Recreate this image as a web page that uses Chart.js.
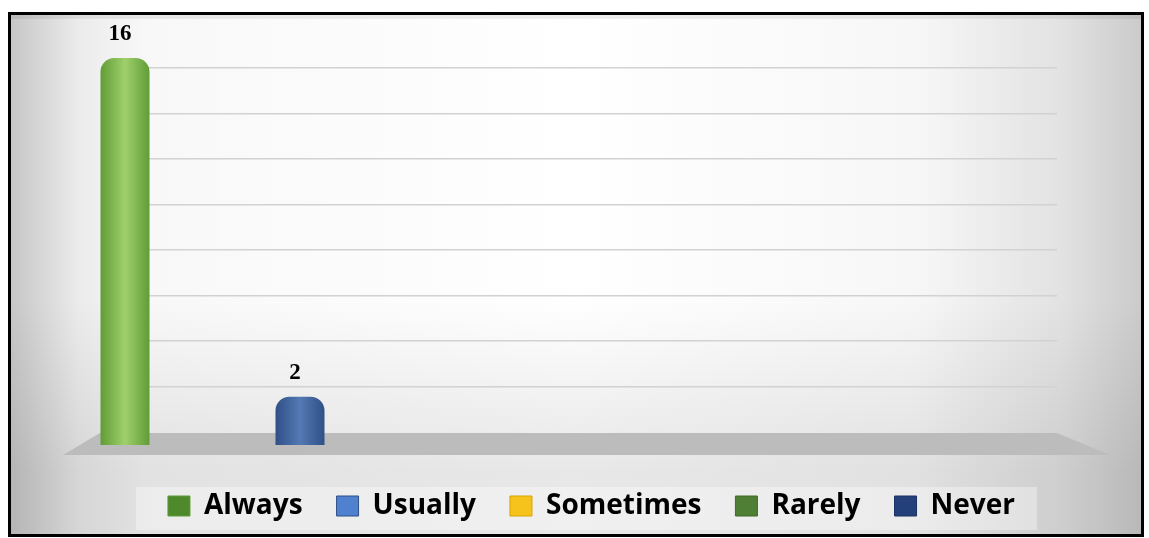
<!DOCTYPE html>
<html>
<head>
<meta charset="utf-8">
<script src="https://cdn.jsdelivr.net/npm/chart.js@4"></script>
<style>
  body { margin: 0; background: #fff; }
  #wrap { position: relative; width: 1149px; height: 538px; }
</style>
</head>
<body>
<div id="wrap"><canvas id="freqChart"></canvas></div>
<script>
// responses per category
const categories = ['Always', 'Usually', 'Sometimes', 'Rarely', 'Never'];
const counts = [16, 2, 0, 0, 0];
const legendColors = ['#4e8a2c', '#4f81cf', '#f6c21c', '#4f7f34', '#24407a'];
const barEdge = ['#5f9b35', '#2f4f86', '#d9a400', '#3f6b28', '#1b3263'];
const barMid = ['#9fd06c', '#5479b4', '#ffd54a', '#6c9c4a', '#3c5a94'];
const wallTicks = [2, 4, 6, 8, 10, 12, 14, 16];

// cylinder shading across each bar
function cylinderFill(context, i) {
    const chart = context.chart;
    if (!chart.chartArea) return barMid[i];
    const cx = chart.scales.x.getPixelForValue(i + 1);
    const g = chart.ctx.createLinearGradient(cx - 25, 0, cx + 25, 0);
    g.addColorStop(0, barEdge[i]);
    g.addColorStop(0.5, barMid[i]);
    g.addColorStop(1, barEdge[i]);
    return g;
}

const backdrop = {
    id: 'backdrop',
    beforeDraw(chart) {
        const ctx = chart.ctx;
        const w = chart.width, h = chart.height;
        ctx.save();
        ctx.fillStyle = '#fff';
        ctx.fillRect(0, 0, w, h);
        const g = ctx.createLinearGradient(10, 0, w - 8, 0);
        g.addColorStop(0, '#c6c6c6');
        g.addColorStop(0.06, '#ebebeb');
        g.addColorStop(0.12, '#f8f8f8');
        g.addColorStop(0.5, '#ffffff');
        g.addColorStop(0.8, '#f7f7f7');
        g.addColorStop(0.93, '#e2e2e2');
        g.addColorStop(1, '#cbcbcb');
        ctx.fillStyle = g;
        ctx.fillRect(10, 14, w - 18, h - 18);
        const v = ctx.createLinearGradient(0, 300, 0, 470);
        v.addColorStop(0, 'rgba(0,0,0,0)');
        v.addColorStop(1, 'rgba(0,0,0,0.09)');
        ctx.fillStyle = v;
        ctx.fillRect(10, 300, w - 18, h - 304);
        ctx.fillStyle = 'rgba(0,0,0,0.07)';
        ctx.fillRect(10, 14, w - 18, 5);

        // legend panel
        const lg = chart.legend;
        if (lg && lg.legendHitBoxes && lg.legendHitBoxes.length) {
            const hb = lg.legendHitBoxes;
            const last = hb[hb.length - 1];
            ctx.fillStyle = 'rgba(255,255,255,0.35)';
            ctx.fillRect(hb[0].left - 32, lg.top + 29, last.left + last.width - hb[0].left + 54, 43);
        }
        ctx.restore();
    },
    beforeDatasetsDraw(chart) {
        // floor of the 3d plot
        const ctx = chart.ctx;
        const xs = chart.scales.x;
        const xl = xs.getPixelForValue(0.857);
        const xr = chart.chartArea.right;
        const y0 = chart.scales.y.getPixelForValue(0);
        ctx.save();
        ctx.fillStyle = '#bcbcbc';
        ctx.beginPath();
        ctx.moveTo(xl, y0 - 12);
        ctx.lineTo(xr, y0 - 12);
        ctx.lineTo(xr + 53, y0 + 10);
        ctx.lineTo(xl - 37, y0 + 10);
        ctx.closePath();
        ctx.fill();
        ctx.restore();
    },
    afterDatasetsDraw(chart) {
        const ctx = chart.ctx;
        ctx.save();
        ctx.fillStyle = '#000';
        ctx.font = 'bold 23px "Liberation Serif", serif';
        ctx.textAlign = 'center';
        ctx.textBaseline = 'bottom';
        chart.data.datasets.forEach((ds, i) => {
            const bar = chart.getDatasetMeta(i).data[0];
            if (!bar || !counts[i]) return;
            ctx.fillText(String(counts[i]), bar.x - 5, bar.y - 12);
        });
        ctx.restore();
    },
    afterDraw(chart) {
        const ctx = chart.ctx;
        ctx.save();
        ctx.strokeStyle = '#000';
        ctx.lineWidth = 3;
        ctx.strokeRect(9.5, 13.5, chart.width - 16, chart.height - 16);
        ctx.restore();
    }
};

const ctx = document.getElementById('freqChart').getContext('2d');

new Chart(ctx, {
    type: 'bar',
    data: {
        datasets: categories.map((name, i) => ({
            label: name,
            data: [{ x: i + 1, y: counts[i] }],
            backgroundColor: c => cylinderFill(c, i),
            borderRadius: { topLeft: 14, topRight: 14, bottomLeft: 0, bottomRight: 0 },
            borderSkipped: 'start',
            barPercentage: 0.28,
            categoryPercentage: 1,
            grouped: false,
            clip: false
        }))
    },
    options: {
        responsive: true,
        maintainAspectRatio: false,
        animation: false,
        layout: { padding: { left: 126, right: 92, top: 58, bottom: 8 } },
        scales: {
            x: {
                type: 'linear',
                offset: false,
                min: 1.0057,
                max: 6.326,
                afterBuildTicks: s => { s.ticks = categories.map((c, i) => ({ value: i + 1 })); },
                ticks: { display: false },
                grid: { display: false },
                border: { display: false },
                afterFit: s => { s.height = 13; }
            },
            y: {
                min: 0,
                max: 16,
                display: false
            },
            wall: {
                position: 'left',
                min: -0.57,
                max: 16.44,
                ticks: { display: false },
                border: { display: false },
                grid: { color: '#d2d2d2', lineWidth: 1.6, drawTicks: false },
                afterBuildTicks: s => { s.ticks = wallTicks.map(v => ({ value: v })); },
                afterFit: s => { s.width = 0; }
            }
        },
        plugins: {
            legend: {
                position: 'bottom',
                labels: {
                    boxWidth: 22,
                    boxHeight: 20,
                    padding: 34,
                    color: '#111',
                    font: { family: '"Open Sans", sans-serif', size: 28, weight: 'bold' },
                    generateLabels: () => categories.map((name, i) => ({
                        text: name,
                        fillStyle: legendColors[i],
                        strokeStyle: barEdge[i],
                        lineWidth: 1,
                        datasetIndex: i
                    }))
                }
            },
            tooltip: { enabled: false }
        }
    },
    plugins: [backdrop]
});
</script>
</body>
</html>
